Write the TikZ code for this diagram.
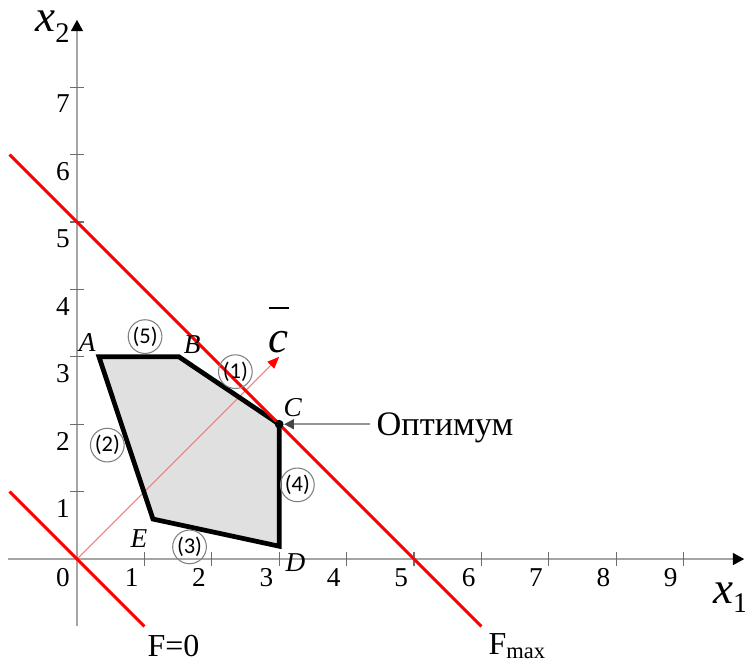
\documentclass[tikz,border=0pt]{standalone}
\usepackage{fontspec}
\setmainfont{Liberation Serif}
\newfontfamily\circfont{Carlito}
\usetikzlibrary{arrows.meta}
\definecolor{axisgray}{RGB}{165,165,165}
\definecolor{tickgray}{RGB}{110,110,110}
\definecolor{polyfill}{RGB}{224,224,224}
\definecolor{vecred}{RGB}{255,120,120}
\definecolor{optline}{RGB}{150,150,150}
\definecolor{opthead}{RGB}{70,70,70}
\begin{document}
\begin{tikzpicture}[x=1cm,y=1cm,
  axisline/.style={draw=axisgray, line width=0.8pt, -{Triangle[length=4.8pt,width=5pt,color=black]}},
  tickmark/.style={draw=tickgray, line width=0.45pt},
  ticklab/.style={inner sep=0pt, font=\fontsize{11.5}{12}\selectfont},
  redline/.style={draw=red, line width=1.3pt},
  polyedge/.style={draw=black, line width=2pt, line join=miter},
  circlab/.style={circle, draw=gray, line width=0.45pt, minimum size=0.5cm, inner sep=0pt, font=\circfont\fontsize{9.5}{10}\selectfont},
  ptlab/.style={inner sep=0pt, font=\fontsize{11.5}{12}\selectfont\itshape},
  veclab/.style={draw=vecred, line width=0.45pt, -{Triangle[length=5pt,width=4pt,color=red]}},
  optarrow/.style={draw=optline, line width=0.8pt, -{Triangle[length=4.2pt,width=4.2pt,color=opthead]}},
  flab/.style={inner sep=0pt, anchor=base west, font=\fontsize{13.5}{14}\selectfont}
]
\useasboundingbox (-1.142,-1.513) rectangle (9.911,8.294);

% coordinates
\coordinate (O) at (0,0);
\coordinate (xs) at (-1.02,0);
\coordinate (xe) at (9.90,0);
\coordinate (ys) at (0,-1.0);
\coordinate (ye) at (0,8.0);
\coordinate (A) at (0.326,3.0);
\coordinate (B) at (1.513,3.0);
\coordinate (C) at (3,2);
\coordinate (D) at (3,0.19);
\coordinate (E) at (1.128,0.593);
\coordinate (ctip) at (3,3);
\coordinate (f0a) at (-1,1);
\coordinate (f0b) at (1,-1);
\coordinate (fma) at (-1,6);
\coordinate (fmb) at (6,-1);
\coordinate (barl) at (2.85,3.725);
\coordinate (barr) at (3.15,3.725);

% feasible region fill
\fill[polyfill] (A) -- (B) -- (C) -- (D) -- (E) -- cycle;

% axes
\draw[axisline] (xs) -- (xe);
\draw[axisline] (ys) -- (ye);
\foreach \k in {1,...,9} {
  \draw[tickmark] (\k,-0.1) -- (\k,0.1);
  \node[ticklab] (xl\k) at (\k-0.19,-0.27) {\k};
}
\foreach \k in {1,...,7} {
  \draw[tickmark] (-0.1,\k) -- (0.1,\k);
  \node[ticklab] (yl\k) at (-0.21,\k-0.25) {\k};
}
\node[ticklab] (zero) at (-0.21,-0.27) {0};

% axis labels
\node[inner sep=0pt, anchor=base west] (x2lab) at (-0.623,7.82)
  {\fontsize{19}{20}\selectfont\itshape x\raisebox{-4.6pt}{\fontsize{12}{12}\selectfont\upshape 2}};
\node[inner sep=0pt, anchor=base west] (x1lab) at (9.43,-0.653)
  {\fontsize{19}{20}\selectfont\itshape x\raisebox{-4.2pt}{\fontsize{12}{12}\selectfont\upshape 1}};

% gradient vector c
\draw[veclab] (O) -- (ctip);

% polygon outline
\draw[polyedge] (A) -- (B) -- (C) -- (D) -- (E) -- cycle;

% level lines
\draw[redline] (f0a) -- (f0b);
\draw[redline] (fma) -- (fmb);

% optimum point
\node[circle, fill=black, inner sep=0pt, minimum size=0.13cm] (Cdot) at (C) {};

% c label
\node[inner sep=0pt] (clab) at (2.985,3.22) {\fontsize{19}{20}\selectfont\textit{c}};
\draw[line width=0.6pt] (barl) -- (barr);

% vertex labels
\node[ptlab] (lA) at (0.15,3.21) {A};
\node[ptlab] (lB) at (1.71,3.18) {B};
\node[ptlab] (lC) at (3.20,2.24) {C};
\node[ptlab] (lD) at (3.24,-0.06) {D};
\node[ptlab] (lE) at (0.92,0.30) {E};

% circled constraint labels
\node[circlab] (c5) at (1.01,3.30) {(5)};
\node[circlab] (c1) at (2.35,2.78) {(1)};
\node[circlab] (c2) at (0.45,1.69) {(2)};
\node[circlab] (c3) at (1.67,0.18) {(3)};
\node[circlab] (c4) at (3.27,1.10) {(4)};

% optimum label
\node[inner sep=0pt, anchor=base west, font=\fontsize{14.5}{15}\selectfont] (opt) at (4.438,1.84) {Оптимум};
\draw[optarrow] ([xshift=-2.5pt]opt.west |- Cdot.east) -- (Cdot.east);

% F labels
\node[flab] (F0) at (1.04,-1.44) {F=0};
\node[flab] (Fmax) at (6.10,-1.41) {F\raisebox{-1.8pt}{\fontsize{9.5}{10}\selectfont max}};
\end{tikzpicture}
\end{document}
